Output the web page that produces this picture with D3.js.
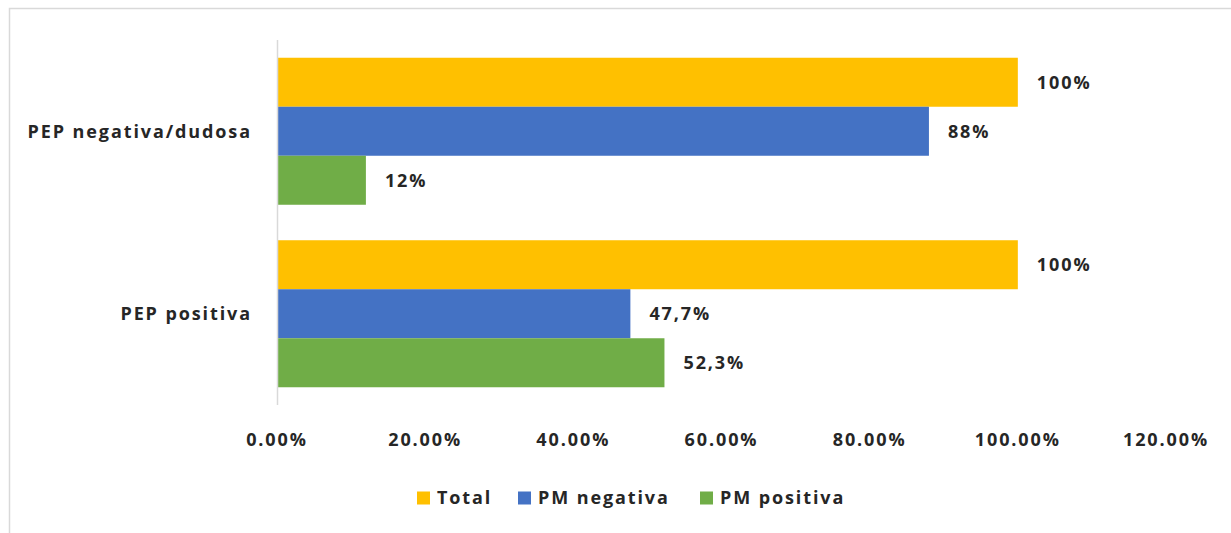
<!DOCTYPE html>
<html>
<head>
<meta charset="utf-8">
<script src="https://cdn.jsdelivr.net/npm/d3@7"></script>
<style>
	body { margin: 0; background: #fff; }
	text { font-family: "Open Sans", "DejaVu Sans", sans-serif; fill: #262626; letter-spacing: 1.9px; }
</style>
</head>
<body>
<script>
// SVG size
let width = 1231,
	height = 533;

// data
const categories = ["PEP negativa/dudosa", "PEP positiva"];
const seriesNames = ["Total", "PM negativa", "PM positiva"];
const seriesColors = ["#ffc000", "#4472c4", "#70ad47"];
const totalValues = [100, 100];
const pmNegValues = [88, 47.7];
const pmPosValues = [12, 52.3];
const barLabels = [["100%", "88%", "12%"], ["100%", "47,7%", "52,3%"]];
const xTicks = [0, 20, 40, 60, 80, 100, 120];

let data = categories.map(function(c, i) {
	return {
		category: c,
		values: [totalValues[i], pmNegValues[i], pmPosValues[i]],
		labels: barLabels[i]
	};
});

let svg = d3.select("body").append("svg")
	.attr("width", width)
	.attr("height", height);

// chart border (top and left edges visible)
svg.append("path")
	.attr("d", "M9.5,533 V8.5 H1231")
	.attr("fill", "none")
	.attr("stroke", "#d9d9d9")
	.attr("stroke-width", 1.5);

// plot area
let plot = {left: 277, right: 1166, top: 40, bottom: 405};

let xScale = d3.scaleLinear()
	.domain([0, 120])
	.range([plot.left, plot.right]);

let yScale = d3.scaleBand()
	.domain(categories)
	.range([plot.top, plot.bottom])
	.paddingInner(0)
	.paddingOuter(0);

// bars fill ~3/4 of each category band
let inner = d3.scaleBand()
	.domain(d3.range(seriesNames.length))
	.range([0, yScale.bandwidth()])
	.paddingOuter(0.362);

let barData = function(d) {
	return d.values.map(function(v, j) { return {v: v, j: j, label: d.labels[j]}; });
};

// bars
let groups = svg.selectAll(".cat")
	.data(data)
	.enter()
	.append("g")
	.attr("class", "cat")
	.attr("transform", function(d) { return "translate(0," + yScale(d.category) + ")"; });

groups.selectAll("rect")
	.data(barData)
	.enter()
	.append("rect")
	.attr("x", xScale(0))
	.attr("y", function(d) { return inner(d.j); })
	.attr("width", function(d) { return xScale(d.v) - xScale(0); })
	.attr("height", inner.bandwidth())
	.attr("fill", function(d) { return seriesColors[d.j]; });

// data labels
groups.selectAll(".lbl")
	.data(barData)
	.enter()
	.append("text")
	.attr("class", "lbl")
	.attr("x", function(d) { return xScale(d.v) + 19; })
	.attr("y", function(d) { return inner(d.j) + inner.bandwidth() / 2; })
	.attr("dy", "0.35em")
	.attr("font-size", 18)
	.attr("font-weight", 700)
	.text(function(d) { return d.label; });

// vertical axis line
svg.append("line")
	.attr("x1", xScale(0) + 0.5)
	.attr("x2", xScale(0) + 0.5)
	.attr("y1", plot.top)
	.attr("y2", plot.bottom)
	.attr("stroke", "#d9d9d9")
	.attr("stroke-width", 1.5);

// category labels
svg.selectAll(".catlbl")
	.data(categories)
	.enter()
	.append("text")
	.attr("class", "catlbl")
	.attr("x", plot.left - 25)
	.attr("y", function(d) { return yScale(d) + yScale.bandwidth() / 2; })
	.attr("dy", "0.35em")
	.attr("text-anchor", "end")
	.attr("font-size", 18)
	.attr("font-weight", 700)
	.text(function(d) { return d; });

// x tick labels
svg.selectAll(".tick")
	.data(xTicks)
	.enter()
	.append("text")
	.attr("class", "tick")
	.attr("x", function(d) { return xScale(d); })
	.attr("y", 440)
	.attr("dy", "0.35em")
	.attr("text-anchor", "middle")
	.attr("font-size", 18)
	.attr("font-weight", 700)
	.text(function(d) { return d.toFixed(2) + "%"; });

// legend
let legendX = [417, 518, 700];
let legend = svg.selectAll(".leg")
	.data(seriesNames)
	.enter()
	.append("g")
	.attr("class", "leg")
	.attr("transform", function(d, i) { return "translate(" + legendX[i] + ",498)"; });

legend.append("rect")
	.attr("x", 0)
	.attr("y", -6.5)
	.attr("width", 13)
	.attr("height", 13)
	.attr("fill", function(d, i) { return seriesColors[i]; });

legend.append("text")
	.attr("x", 20)
	.attr("y", 0)
	.attr("dy", "0.35em")
	.attr("font-size", 18)
	.attr("font-weight", 700)
	.text(function(d) { return d; });
</script>
</body>
</html>
